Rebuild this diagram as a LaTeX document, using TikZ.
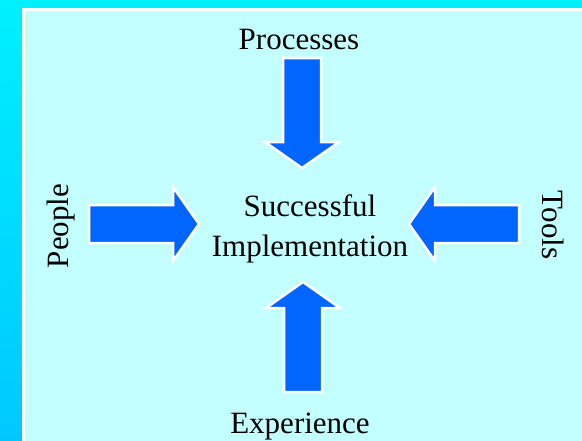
\documentclass[tikz,border=0pt]{standalone}
\usepackage{fontspec}
\setmainfont{Liberation Serif}
\definecolor{framecyan}{RGB}{0,240,255}
\definecolor{framedeep}{RGB}{0,200,255}
\definecolor{panelcyan}{RGB}{196,255,255}
\definecolor{arrowblue}{RGB}{0,102,255}
\begin{document}
\begin{tikzpicture}[x=1pt,y=-1pt]
  \tikzset{
    pics/fatarrow/.style={code={
      \draw[line width=2.5pt,white,fill=arrowblue,line join=miter]
        (0,-19) -- (84,-19) -- (84,-37) -- (110,0) -- (84,37) -- (84,19) -- (0,19) -- cycle ;
      },
    },
    label/.style={font=\fontsize{31}{40}\selectfont,inner sep=0pt}
  }

    \useasboundingbox (0,0) rectangle (582,440);
    %BACKGROUND
    \shade[top color=framecyan,bottom color=framedeep] (0,0) rectangle (582,440);
    \draw[line width=3pt,white,fill=panelcyan] (23.5,9.5) rectangle (590,450);

    %ARROWS
    \draw (302,58) pic[rotate=-90] {fatarrow};
    \draw (89,224) pic {fatarrow};
    \draw (519,224) pic[rotate=180] {fatarrow};
    \draw (303,392) pic[rotate=90] {fatarrow};

    %TEXTS
    \node[label,align=center] (goal) at (310,229) {Successful\\Implementation};
    \node[label,anchor=base] (processes) at (299,49) {Processes};
    \node[label,anchor=base] (experience) at (300,433) {Experience};
    \node[label,anchor=base,rotate=90] (people) at (68,226) {People};
    \node[label,anchor=base,rotate=-90] (tools) at (542,225) {Tools};
  \end{tikzpicture}
\end{document}
